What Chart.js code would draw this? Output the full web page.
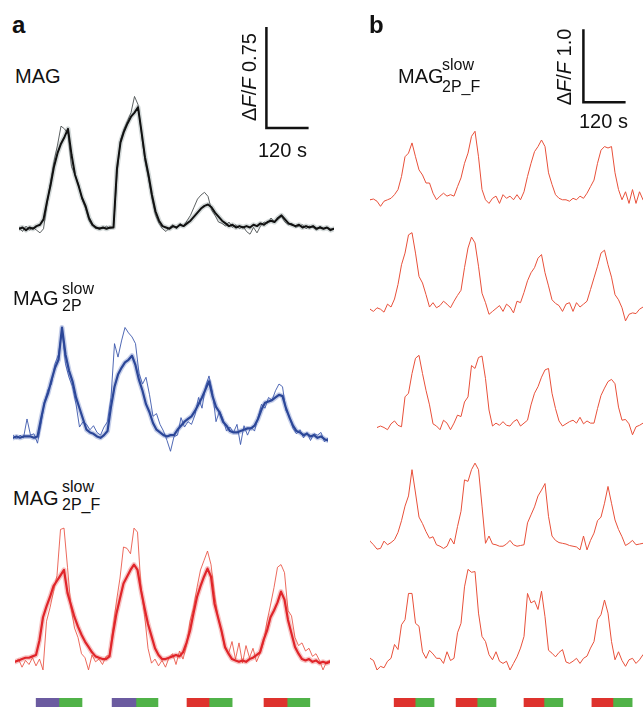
<!DOCTYPE html>
<html>
<head>
<meta charset="utf-8">
<script src="https://cdn.jsdelivr.net/npm/chart.js@4.4.0/dist/chart.umd.min.js"></script>
<style>
  html, body { margin: 0; padding: 0; background: #fff; }
  #fig { position: relative; width: 643px; height: 707px; overflow: hidden;
         font-family: "Liberation Sans", Arial, Helvetica, sans-serif; color: #111; }
  #fig canvas { position: absolute; }
  .txt { position: absolute; line-height: 1; white-space: nowrap; }
</style>
</head>
<body>
<div id="fig"></div>
<script>
// ---- data (seconds, dF/F) ----
const timeA = [0,10,20,30,40,50,60,70,80,90,100,110,120,130,140,150,160,170,180,190,
  200,210,220,230,240,250,260,270,280,290,300,310,320,330,340,350,360,370,380,390,
  400,410,420,430,440,450,460,470,480,490,500,510,520,530,540,550,560,570,580,590,
  600,610,620,630,640,650,660,670,680,690,700,710,720,730,740,750,760,770,780,790,
  800,810,820,830,840,850,860,870,880,890,900];

const blackMean = [0.00,0.01,-0.01,0.01,0.00,0.02,0.03,0.07,0.20,0.32,
  0.46,0.56,0.63,0.68,0.74,0.55,0.40,0.32,0.23,0.17,
  0.08,0.03,0.01,0.00,0.01,0.00,0.01,0.01,0.45,0.64,
  0.72,0.78,0.83,0.86,0.90,0.72,0.53,0.40,0.25,0.13,
  0.06,0.02,0.01,0.00,0.02,0.01,0.03,0.02,0.04,0.06,
  0.09,0.12,0.15,0.17,0.18,0.16,0.12,0.09,0.06,0.04,
  0.02,0.03,0.01,0.02,0.01,0.02,0.01,0.03,0.02,0.04,
  0.03,0.05,0.06,0.05,0.08,0.10,0.07,0.04,0.03,0.02,
  0.03,0.01,0.02,0.01,0.02,0.00,0.01,0.00,0.01,-0.01,
  0.00];
const blackSingle = [0.01,-0.02,0.02,-0.01,0.01,-0.01,-0.03,0.00,0.18,0.35,
  0.50,0.62,0.76,0.74,0.70,0.46,0.40,0.33,0.22,0.15,
  0.06,0.02,0.00,0.01,0.00,0.02,0.00,0.01,0.40,0.66,
  0.74,0.80,0.86,0.98,0.92,0.70,0.50,0.37,0.22,0.10,
  0.04,0.00,-0.02,0.01,0.03,0.00,0.04,0.02,0.06,0.10,
  0.16,0.22,0.25,0.27,0.24,0.14,0.10,0.05,0.04,0.02,
  0.05,0.01,0.03,0.00,0.02,-0.02,-0.04,0.01,-0.03,0.02,
  0.05,0.04,0.08,0.05,0.07,0.09,0.05,0.03,0.04,0.01,
  0.02,0.03,0.00,0.02,0.01,-0.01,0.02,0.00,0.01,0.00,
  0.00];

const blueMean = [0.00,0.01,0.00,0.01,0.01,0.01,0.00,0.01,0.14,0.26,
  0.33,0.43,0.52,0.58,0.82,0.62,0.50,0.42,0.30,0.22,
  0.14,0.06,0.04,0.03,0.01,0.00,0.02,0.05,0.23,0.38,
  0.47,0.52,0.56,0.58,0.61,0.54,0.43,0.35,0.25,0.19,
  0.11,0.06,0.04,0.02,0.01,0.02,0.02,0.06,0.09,0.12,
  0.14,0.16,0.20,0.25,0.30,0.36,0.42,0.31,0.23,0.19,
  0.12,0.09,0.05,0.04,0.04,0.05,0.06,0.07,0.07,0.09,
  0.14,0.21,0.26,0.27,0.28,0.30,0.32,0.31,0.22,0.15,
  0.09,0.05,0.04,0.02,0.03,0.01,0.02,0.00,0.01,-0.01,
  -0.02];
const blueSingle = [0.02,-0.01,0.02,0.00,0.14,0.02,0.03,-0.04,0.10,0.27,
  0.36,0.40,0.55,0.62,0.80,0.55,0.45,0.38,0.25,0.08,
  0.12,0.10,0.06,0.09,0.04,0.02,0.08,0.12,0.30,0.70,
  0.60,0.72,0.82,0.78,0.75,0.70,0.48,0.40,0.45,0.32,
  0.16,0.18,0.10,0.05,-0.02,-0.10,0.01,0.02,0.15,0.08,
  0.12,0.10,0.17,0.30,0.22,0.38,0.46,0.34,0.12,0.20,
  0.14,0.05,0.08,0.04,0.10,-0.05,0.09,0.02,0.08,0.05,
  0.15,0.25,0.22,0.30,0.28,0.35,0.40,0.38,0.20,0.16,
  0.07,0.03,0.06,0.00,0.04,-0.02,0.03,0.02,0.04,-0.03,
  0.00];

const redMean = [0.00,0.01,0.02,0.03,0.03,0.04,0.05,0.16,0.33,0.41,
  0.48,0.56,0.60,0.64,0.68,0.51,0.42,0.33,0.26,0.20,
  0.15,0.11,0.07,0.04,0.03,0.02,0.02,0.04,0.21,0.36,
  0.47,0.58,0.63,0.68,0.72,0.68,0.53,0.40,0.28,0.19,
  0.10,0.05,0.02,0.02,0.03,0.04,0.05,0.04,0.07,0.14,
  0.23,0.36,0.48,0.56,0.63,0.69,0.63,0.43,0.33,0.23,
  0.11,0.06,0.02,0.01,0.00,0.01,0.00,0.02,0.03,0.05,
  0.07,0.16,0.23,0.33,0.38,0.44,0.52,0.46,0.31,0.21,
  0.11,0.06,0.02,0.01,0.02,0.00,0.01,-0.01,0.00,-0.01,
  0.00];
const redSingle = [0.00,0.02,-0.04,0.01,-0.02,0.03,-0.03,0.02,-0.06,0.30,
  0.40,0.52,0.64,0.98,0.99,0.70,0.40,0.25,0.18,0.06,
  0.03,-0.06,0.05,0.00,0.02,-0.02,0.04,0.05,0.25,0.45,
  0.62,0.85,0.84,0.80,0.99,0.96,0.55,0.35,0.10,-0.01,
  0.02,-0.03,0.01,-0.04,0.03,0.06,-0.02,0.08,0.02,0.12,
  0.30,0.40,0.55,0.68,0.75,0.82,0.72,0.50,0.33,0.22,
  0.10,0.06,0.15,0.02,0.14,-0.01,0.12,0.03,0.10,0.00,
  0.06,0.14,0.30,0.42,0.55,0.70,0.72,0.66,0.38,0.34,
  0.18,0.12,0.14,0.08,0.10,0.04,0.06,0.01,-0.06,0.00,
  0.01];

const timeB = [0,10,20,30,40,50,60,70,80,90,100,110,120,130,140,150,160,170,180,190,
  200,210,220,230,240,250,260,270,280,290,300,310,320,330,340,350,360,370,380,390,
  400,410,420,430,440,450,460,470,480,490,500,510,520,530,540,550,560,570,580,590,
  600,610,620,630,640,650,660,670,680,690,700,710,720,730,740,750,760,770,780];

const cell1 = [0.00,0.01,-0.02,-0.09,-0.02,0.00,0.02,0.07,0.14,0.32,
  0.59,0.64,0.78,0.59,0.41,0.34,0.23,0.23,0.09,0.00,
  0.05,0.09,0.05,0.07,0.05,0.18,0.30,0.50,0.64,0.87,
  0.94,0.59,0.14,0.00,-0.05,0.02,0.05,-0.05,0.07,0.02,
  0.05,0.00,0.07,0.00,0.11,0.32,0.50,0.66,0.73,0.82,
  0.73,0.37,0.21,0.07,0.02,0.00,0.00,-0.02,0.02,0.00,
  0.05,0.02,0.09,0.18,0.27,0.50,0.68,0.73,0.71,0.73,
  0.37,0.14,0.00,0.11,-0.05,0.14,-0.05,0.11,0.00];
const cell2 = [-0.02,-0.05,0.00,-0.02,-0.06,0.05,0.01,0.12,0.32,0.59,
  0.75,1.00,1.03,0.75,0.43,0.34,0.18,0.01,0.07,0.00,
  0.03,0.09,0.05,0.00,0.09,0.17,0.24,0.55,0.82,0.97,
  0.89,0.57,0.20,0.07,-0.09,-0.05,-0.01,0.03,-0.05,0.05,
  0.01,-0.07,0.09,0.07,0.21,0.37,0.48,0.55,0.68,0.73,
  0.48,0.30,0.11,0.06,0.03,-0.05,0.05,0.07,-0.05,0.07,
  0.01,0.05,0.09,0.25,0.41,0.57,0.75,0.79,0.59,0.42,
  0.18,0.11,0.00,-0.18,-0.09,-0.07,-0.08,-0.02,0.01];
const cell3 = [null,null,-0.01,0.01,-0.01,-0.04,0.04,0.08,0.02,0.00,
  0.41,0.46,0.73,0.94,0.98,0.73,0.50,0.30,0.04,0.01,
  -0.04,0.09,0.05,-0.04,0.05,0.16,0.14,0.34,0.41,0.84,
  0.80,0.95,0.97,0.66,0.23,0.01,0.05,0.02,0.07,0.02,
  0.01,0.07,0.10,0.01,0.05,0.09,0.30,0.46,0.55,0.68,
  0.78,0.80,0.46,0.25,0.08,0.01,0.04,0.07,0.09,0.05,
  0.13,0.04,0.08,0.05,0.05,0.25,0.43,0.53,0.62,0.65,
  0.59,0.27,0.09,0.10,0.04,-0.11,0.00,0.02,0.05];
const cell4 = [0.05,0.00,-0.06,-0.05,0.05,0.00,0.03,0.07,0.17,0.33,
  0.53,0.67,1.03,0.71,0.38,0.29,0.18,0.09,0.11,0.00,
  -0.02,-0.05,-0.02,0.09,0.01,0.25,0.46,0.89,0.87,1.03,
  1.12,1.03,0.53,0.02,0.12,0.01,0.00,-0.02,-0.02,0.01,
  0.06,0.00,-0.02,-0.01,0.00,0.30,0.41,0.52,0.67,0.75,
  0.84,0.39,0.12,0.06,0.03,0.02,0.01,-0.01,-0.02,-0.03,
  -0.07,0.12,-0.07,0.06,0.16,0.33,0.38,0.57,0.80,0.57,
  0.34,0.21,0.11,-0.01,0.02,0.06,0.00,0.01,0.02];
const cell5 = [0.02,-0.01,-0.14,-0.09,-0.11,-0.02,0.02,0.21,0.14,0.48,
  0.55,0.91,0.91,0.50,0.46,0.11,0.02,0.13,0.08,0.02,
  0.02,-0.05,0.11,-0.01,0.02,0.37,0.50,1.00,1.24,1.20,
  1.21,0.64,0.32,0.25,0.07,0.00,0.11,-0.02,-0.05,-0.02,
  -0.14,-0.05,0.04,0.16,0.32,0.91,0.78,0.81,0.69,0.94,
  0.59,0.13,0.09,0.04,0.10,0.14,-0.03,-0.05,-0.02,0.02,
  -0.05,0.02,0.05,0.16,0.25,0.55,0.62,0.82,0.64,0.25,
  0.00,0.11,-0.01,-0.09,0.00,0.02,-0.05,0.00,0.07];

// light stimulation: first colour from start to switch, green from switch to end (s)
const stimStartA  = [49, 266, 480, 700];
const stimSwitchA = [114, 334, 543, 766];
const stimEndA    = [180, 397, 609, 831];
const stimStartB  = [69, 246, 440, 634];
const stimSwitchB = [129, 306, 497, 694];
const stimEndB    = [183, 360, 551, 749];

// scale bars: corner path (s, dF/F)
const barTime = [0, 0, 120];
const barValA = [0.75, 0, 0];
const barValB = [1.0, 0, 0];

// ---- styles ----
const VIOLET = '#6b5ba0', RED = '#de322d', GREEN = '#50b248';
const stimColorsA = [VIOLET, VIOLET, RED, RED];
const stimColorsB = [RED, RED, RED, RED];

// ---- layout (px) ----
const frameBlack = { left: 19, baseline: 229, pxPerSec: 0.35, pxPerUnit: 135 };
const frameBlue  = { left: 13, baseline: 438, pxPerSec: 0.35, pxPerUnit: 135 };
const frameRed   = { left: 15, baseline: 662, pxPerSec: 0.35, pxPerUnit: 135 };
const frameBarA  = { left: 266, baseline: 128, pxPerSec: 0.35, pxPerUnit: 135 };
const frameBarB  = { left: 583, baseline: 102, pxPerSec: 0.35, pxPerUnit: 73 };
const cellBaselines = [200, 308, 427, 545, 660];

const fig = document.getElementById('fig');
Chart.defaults.animation = false;
Chart.defaults.responsive = false;
Chart.defaults.devicePixelRatio = 1;
Chart.defaults.plugins.legend.display = false;
Chart.defaults.plugins.tooltip.enabled = false;

function pts(times, values) {
    return values.map((v, i) => ({ x: times[i], y: v }));
}

// order: lower numbers are painted on top
function line(data, color, width, order) {
    return { data, borderColor: color, borderWidth: width, fill: false, clip: false,
             pointRadius: 0, borderJoinStyle: 'round', borderCapStyle: 'round', order: order || 0 };
}

function place(left, top, width, height) {
    const c = document.createElement('canvas');
    c.width = Math.round(width);
    c.height = Math.round(height);
    c.style.left = left + 'px';
    c.style.top = top + 'px';
    fig.appendChild(c);
    return c;
}

function traceChart(frame, xRange, yRange, datasets) {
    const c = place(frame.left + xRange[0] * frame.pxPerSec,
                    frame.baseline - yRange[1] * frame.pxPerUnit,
                    (xRange[1] - xRange[0]) * frame.pxPerSec,
                    (yRange[1] - yRange[0]) * frame.pxPerUnit);
    return new Chart(c, {
        type: 'line',
        data: { datasets },
        options: {
            events: [],
            layout: { padding: 0 },
            elements: { point: { radius: 0 }, line: { tension: 0 } },
            scales: {
                x: { type: 'linear', display: false, min: xRange[0], max: xRange[1] },
                y: { type: 'linear', display: false, min: yRange[0], max: yRange[1] }
            }
        }
    });
}

function stimChart(left, top, xMax, pxPerSec, starts, switches, ends, firstColors) {
    const c = place(left, top, xMax * pxPerSec, 12);
    const datasets = [];
    starts.forEach((s, i) => {
        datasets.push({ data: [[s, switches[i]]], backgroundColor: firstColors[i] });
        datasets.push({ data: [[switches[i], ends[i]]], backgroundColor: GREEN });
    });
    datasets.forEach(d => Object.assign(d, { barPercentage: 1, categoryPercentage: 1, grouped: false, borderWidth: 0 }));
    return new Chart(c, {
        type: 'bar',
        data: { labels: ['light'], datasets },
        options: {
            indexAxis: 'y',
            events: [],
            layout: { padding: 0 },
            scales: {
                x: { type: 'linear', display: false, min: 0, max: xMax },
                y: { display: false }
            }
        }
    });
}

function addText(html, x, baseline, size, extra) {
    const d = document.createElement('div');
    d.className = 'txt';
    d.innerHTML = html;
    d.style.left = x + 'px';
    d.style.top = (baseline - 0.85 * size) + 'px';
    d.style.fontSize = size + 'px';
    if (extra) Object.assign(d.style, extra);
    fig.appendChild(d);
}

function addRotText(html, cx, cy, size) {
    const d = document.createElement('div');
    d.className = 'txt';
    d.innerHTML = html;
    d.style.left = cx + 'px';
    d.style.top = cy + 'px';
    d.style.fontSize = size + 'px';
    d.style.transform = 'translate(-50%,-50%) rotate(-90deg)';
    fig.appendChild(d);
}

// ---- panel a ----
traceChart(frameBlack, [0, 900], [-0.12, 1.05], [
    line(pts(timeA, blackMean), 'rgba(175,186,186,0.55)', 5, 3),
    line(pts(timeA, blackSingle), '#4a4f50', 0.9, 2),
    line(pts(timeA, blackMean), '#111', 2, 1)
]);
traceChart(frameBlue, [0, 900], [-0.15, 0.95], [
    line(pts(timeA, blueMean), 'rgba(140,158,212,0.5)', 5, 3),
    line(pts(timeA, blueSingle), '#3c58ad', 0.9, 2),
    line(pts(timeA, blueMean), '#2c4798', 2.2, 1)
]);
traceChart(frameRed, [0, 900], [-0.12, 1.05], [
    line(pts(timeA, redMean), 'rgba(240,140,140,0.5)', 5, 3),
    line(pts(timeA, redSingle), 'rgba(232,70,55,0.9)', 0.9, 2),
    line(pts(timeA, redMean), '#e0252a', 2.2, 1)
]);
traceChart(frameBarA, [-4, 124], [-0.03, 0.78], [
    Object.assign(line(pts(barTime, barValA), '#111', 2.5), { borderJoinStyle: 'miter', borderCapStyle: 'butt' })
]);
stimChart(frameBlack.left, 698, 900, 0.35, stimStartA, stimSwitchA, stimEndA, stimColorsA);

// ---- panel b ----
[cell1, cell2, cell3, cell4, cell5].forEach((cell, i) => {
    const frame = { left: 370, baseline: cellBaselines[i], pxPerSec: 0.35, pxPerUnit: 73 };
    traceChart(frame, [0, 780], [-0.25, 1.3], [line(pts(timeB, cell), '#e8503a', 1)]);
});
traceChart(frameBarB, [-4, 124], [-0.05, 1.03], [
    Object.assign(line(pts(barTime, barValB), '#111', 2.5), { borderJoinStyle: 'miter', borderCapStyle: 'butt' })
]);
stimChart(370, 698, 780, 0.35, stimStartB, stimSwitchB, stimEndB, stimColorsB);

// ---- text ----
addText('<b>a</b>', 12, 33, 24);
addText('<b>b</b>', 369, 33, 24);
addText('MAG', 15, 83, 20);
addText('MAG', 13, 305, 20);
addText('slow', 62, 295, 16);
addText('2P', 62, 312, 16);
addText('MAG', 13, 505, 20);
addText('slow', 62, 493, 16);
addText('2P_F', 62, 511, 16);
addText('MAG', 398, 83, 20);
addText('slow', 442, 71, 16);
addText('2P_F', 442, 93, 16);
addRotText('&Delta;<i>F</i>/<i>F</i> 0.75', 249, 77, 20);
addText('120 s', 258, 157, 20);
addRotText('&Delta;<i>F</i>/<i>F</i> 1.0', 564, 67, 20);
addText('120 s', 579, 128, 20);
</script>
</body>
</html>
